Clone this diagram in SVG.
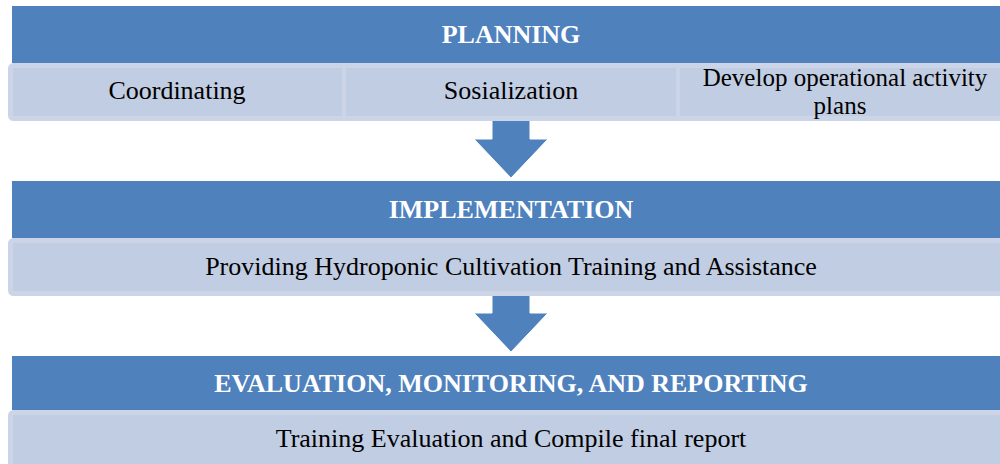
<svg xmlns="http://www.w3.org/2000/svg" width="1000" height="464" viewBox="0 0 1000 464">
<style>
.hdr{fill:#4f81bd}
.sub{fill:#c1cde2;stroke:#ccd5e7;stroke-width:5}
.sep{stroke:#ccd5e7;stroke-width:4}
.arr{fill:#4f81bd;stroke:#ffffff;stroke-width:1}
.ht{font-family:"Liberation Serif",serif;font-weight:bold;font-size:26px;fill:#ffffff;text-anchor:middle}
.bt{font-family:"Liberation Serif",serif;font-size:26px;fill:#000000;text-anchor:middle}
.bt2{font-family:"Liberation Serif",serif;font-size:25px;fill:#000000;text-anchor:middle}
</style>
<rect width="1000" height="464" fill="#ffffff"/>
<g id="connectors">
<path class="arr" d="M492,118 L530,118 L530,139 L548,139 L511,178 L474,139 L492,139 Z"/>
<path class="arr" d="M492,293 L530,293 L530,313 L548,313 L511,352 L474,313 L492,313 Z"/>
</g>
<g id="planning">
<rect class="hdr" x="12" y="6" width="988" height="57"/>
<text class="ht" x="511" y="43">PLANNING</text>
<rect class="sub" x="10.5" y="65.5" width="995" height="53" rx="3"/>
<line class="sep" x1="344" y1="66" x2="344" y2="118"/>
<line class="sep" x1="678" y1="66" x2="678" y2="118"/>
<text class="bt" x="177" y="99">Coordinating</text>
<text class="bt" x="511" y="99">Sosialization</text>
<text class="bt2" x="845" y="86">Develop operational activity</text>
<text class="bt2" x="840" y="114">plans</text>
</g>
<g id="implementation">
<rect class="hdr" x="12" y="181" width="988" height="57"/>
<text class="ht" x="511" y="218">IMPLEMENTATION</text>
<rect class="sub" x="10.5" y="240.5" width="995" height="53" rx="3"/>
<text class="bt" x="511" y="275">Providing Hydroponic Cultivation Training and Assistance</text>
</g>
<g id="evaluation">
<rect class="hdr" x="12" y="356" width="988" height="54"/>
<text class="ht" x="511" y="392">EVALUATION, MONITORING, AND REPORTING</text>
<rect class="sub" x="10.5" y="412.5" width="995" height="60" rx="3"/>
<text class="bt" x="511" y="447">Training Evaluation and Compile final report</text>
</g>
</svg>
